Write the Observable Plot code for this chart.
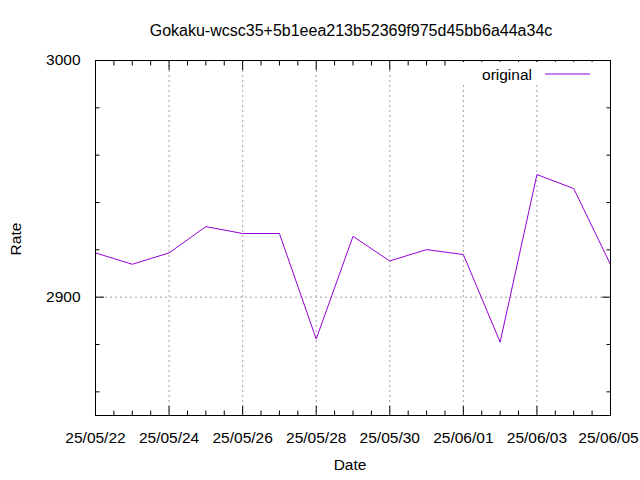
<!DOCTYPE html>
<html>
<head>
<meta charset="utf-8">
<script src="https://cdn.jsdelivr.net/npm/d3@7"></script>
<script src="https://cdn.jsdelivr.net/npm/@observablehq/plot@0.6"></script>
<style>
  html, body { margin: 0; padding: 0; background: #fff; }
  #chart svg { display: block; }
</style>
</head>
<body>
<div id="chart"></div>
<script>
const title = "Gokaku-wcsc35+5b1eea213b52369f975d45bb6a44a34c";
const seriesName = "original";
const dates = ["2025-05-22","2025-05-23","2025-05-24","2025-05-25","2025-05-26","2025-05-27","2025-05-28",
               "2025-05-29","2025-05-30","2025-05-31","2025-06-01","2025-06-02","2025-06-03","2025-06-04","2025-06-05"];
const rates = [2918.7, 2913.9, 2918.7, 2929.8, 2926.9, 2926.9, 2882.3,
               2925.7, 2915.3, 2920.1, 2918.0, 2881.0, 2951.8, 2945.9, 2913.8];
const xTickDates = ["2025-05-22","2025-05-24","2025-05-26","2025-05-28","2025-05-30","2025-06-01","2025-06-03","2025-06-05"];
const yMajorTicks = [2900, 3000];
const yMinorTicks = [2860, 2880, 2920, 2940, 2960, 2980];
const yDomain = [2850, 3000];

const parse = d3.utcParse("%Y-%m-%d");
const data = dates.map((d, i) => ({date: parse(d), rate: rates[i]}));
const xMajor = xTickDates.map(parse);
const xDomain = [parse(dates[0]), parse(dates[dates.length - 1])];
const xMinor = d3.utcHour.every(12).range(xDomain[0], new Date(+xDomain[1] + 1)).filter(d => !xMajor.some(m => +m === +d));
const xFmt = d3.utcFormat("%y/%m/%d");

const font = "Liberation Sans, Arial, sans-serif";
const fs = 16;
const tfs = 15.5;
const purple = "#9400d3";
const gridStyle = {stroke: "#a0a0a0", strokeOpacity: 1, strokeDasharray: "2,3"};

const chart = Plot.plot({
  width: 640,
  height: 480,
  marginLeft: 95,
  marginRight: 30,
  marginTop: 60,
  marginBottom: 65,
  style: {fontFamily: font, fontSize: fs + "px", color: "#000", background: "#fff"},
  x: {type: "utc", domain: xDomain},
  y: {domain: yDomain},
  marks: [
    Plot.gridX(xMajor, gridStyle),
    Plot.gridY([2900], gridStyle),
    Plot.axisX(xMajor, {anchor: "bottom", tickSize: -9, tickFormat: () => "", label: null}),
    Plot.axisX(xMajor.slice(0, -1), {anchor: "bottom", tickSize: 0, tickPadding: 16, tickFormat: xFmt, label: null, fontSize: tfs}),
    Plot.axisX(xMajor.slice(-1), {anchor: "bottom", tickSize: 0, tickPadding: 16, tickFormat: xFmt, label: null, fontSize: tfs, dx: -2}),
    Plot.axisX(xMajor, {anchor: "top", tickSize: -9, tickFormat: () => "", label: null}),
    Plot.axisX(xMinor, {anchor: "bottom", tickSize: -4.5, tickFormat: () => "", label: null}),
    Plot.axisX(xMinor, {anchor: "top", tickSize: -4.5, tickFormat: () => "", label: null}),
    Plot.axisY(yMajorTicks, {anchor: "left", tickSize: -9, tickPadding: 24, tickFormat: d => String(d), label: null, fontSize: tfs}),
    Plot.axisY(yMajorTicks, {anchor: "right", tickSize: -9, tickFormat: () => "", label: null}),
    Plot.axisY(yMinorTicks, {anchor: "left", tickSize: -4.5, tickFormat: () => "", label: null}),
    Plot.axisY(yMinorTicks, {anchor: "right", tickSize: -4.5, tickFormat: () => "", label: null}),
    Plot.line(data, {x: "date", y: "rate", stroke: purple, strokeWidth: 1}),
    Plot.frame({stroke: "#000", strokeWidth: 1})
  ]
});

const svg = d3.select(chart);
// key (legend) with blanked background, as gnuplot does
const key = svg.append("g");
key.append("rect").attr("x", 458).attr("y", 62).attr("width", 145).attr("height", 23).attr("fill", "#fff");
key.append("text").attr("x", 532).attr("y", 74).attr("text-anchor", "end").attr("dominant-baseline", "central")
  .attr("font-family", font).attr("font-size", tfs).text(seriesName);
key.append("line").attr("x1", 545).attr("x2", 590).attr("y1", 74).attr("y2", 74).attr("stroke", purple);
// title and axis labels
svg.append("text").attr("x", 351).attr("y", 30).attr("text-anchor", "middle").attr("dominant-baseline", "central")
  .attr("font-family", font).attr("font-size", fs).text(title);
svg.append("text").attr("x", 350).attr("y", 464).attr("text-anchor", "middle").attr("dominant-baseline", "central")
  .attr("font-family", font).attr("font-size", tfs).text("Date");
svg.append("text").attr("transform", "translate(15,239) rotate(-90)").attr("text-anchor", "middle").attr("dominant-baseline", "central")
  .attr("font-family", font).attr("font-size", tfs).text("Rate");

document.getElementById("chart").appendChild(chart);
</script>
</body>
</html>
